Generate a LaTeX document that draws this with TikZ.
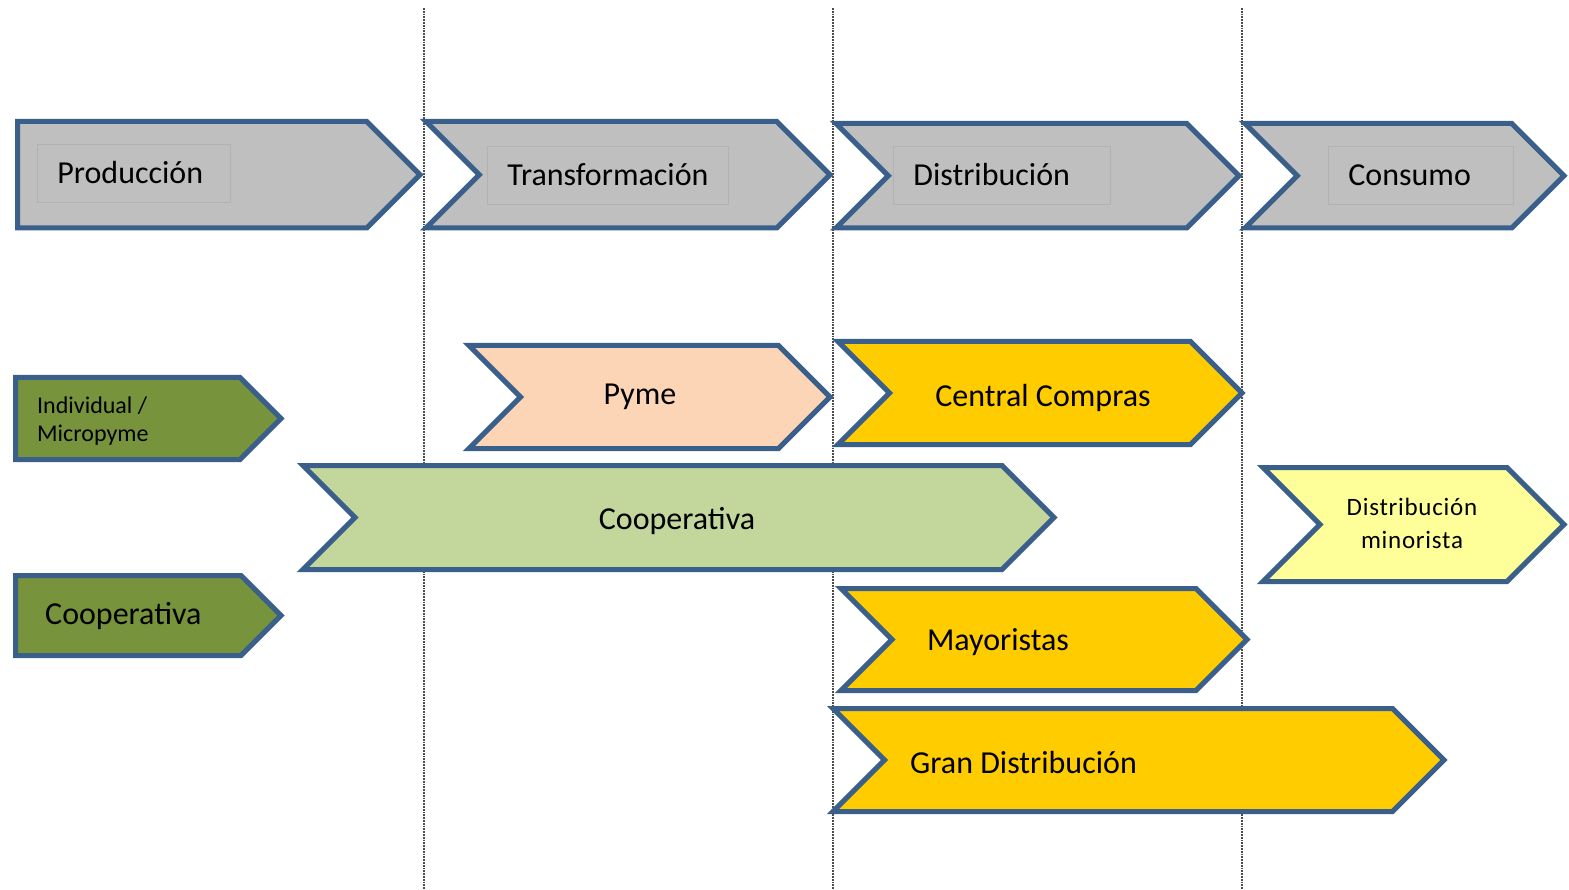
\documentclass[tikz,border=0pt]{standalone}
\usepackage{fontspec}
\setmainfont{Carlito}
\usepackage{tikz}
\usetikzlibrary{positioning}
\definecolor{edgeblue}{HTML}{3A5F8B}
\definecolor{greyfill}{HTML}{BFBFBF}
\definecolor{peach}{HTML}{FBD5B5}
\definecolor{gold}{HTML}{FFCC00}
\definecolor{olive}{HTML}{77933C}
\definecolor{sage}{HTML}{C3D69B}
\definecolor{paleyellow}{HTML}{FFFF99}
\tikzset{stage/.style={draw=edgeblue,line width=5pt,line join=miter}}
\tikzset{guide/.style={densely dotted,draw=black!70,line width=1.8pt}}
\tikzset{lbl/.style={font=\fontsize{32}{38}\selectfont,inner sep=0pt,yshift=-3pt}}
\tikzset{small/.style={font=\fontsize{24}{28}\selectfont,inner sep=0pt}}
\tikzset{faintbox/.style={draw=black!30,line width=0.8pt,anchor=west,minimum height=58pt,inner xsep=20pt,align=left}}

\begin{document}
\begin{tikzpicture}[x=1pt,y=-1pt]
\useasboundingbox (0,0) rectangle (1569,890);
% stage borders
\foreach \x/\n in {424/1,833/2,1242/3} {
	\coordinate (g\n top) at (\x,8);
	\coordinate (g\n bot) at (\x,890);
	\draw[guide] (g\n top) -- (g\n bot);
}
% arrows: left/right/top/bottom/notch/fill
\foreach \l/\r/\t/\b/\n/\c in {17.5/420/121.5/228/0/greyfill,
	426/830/121.5/228/1/greyfill, 836/1239/123.5/228/1/greyfill,
	1245/1564/123.5/228/1/greyfill, 469/830/345.5/448.5/1/peach,
	838/1242/341.5/444.5/1/gold, 15.5/281/377.5/459.5/0/olive,
	303/1054/465.5/569.5/1/sage, 15.5/281/575.5/655.5/0/olive,
	1263/1564/467.5/581.5/1/paleyellow, 841/1247/588.5/690.5/1/gold,
	833/1444/708.5/811.5/1/gold} {
	\pgfmathsetmacro\h{(\b-\t)/2}
	\pgfmathsetmacro\m{(\b+\t)/2}
	\draw[stage,fill=\c] (\l,\t) -- ({\r-\h},\t) -- (\r,\m) -- ({\r-\h},\b)
		-- (\l,\b) -- ({\l+\n*\h},\m) -- cycle;
}
% stage titles
\node[lbl,faintbox,text width=153pt] (prod) at (37,170) {Producción};
\node[lbl,faintbox,text width=201pt] (trans) at (487,172) {Transformación};
\node[lbl,faintbox,text width=177pt] (dist) at (893,172) {Distribución};
\node[lbl,faintbox,text width=145pt] (cons) at (1328,172) {Consumo};
% actors
\node[small,anchor=west,align=left] (indiv) at (37,421) {Individual /\\Micropyme};
\node[lbl,anchor=west] (coopprod) at (45,613) {Cooperativa};
\node[lbl] (pyme) at (640,394) {Pyme};
\node[lbl] (coop) at (677,518) {Cooperativa};
\node[lbl] (central) at (1043,395) {Central Compras};
\node[lbl] (mayor) at (998,639) {Mayoristas};
\node[lbl,anchor=west] (gran) at (910,760) {Gran Distribución};
\node[inner sep=0pt,align=center,font=\fontsize{25}{33}\selectfont\addfontfeature{LetterSpace=3}] (minor) at (1412,523) {Distribución\\minorista};
\end{tikzpicture}
\end{document}
